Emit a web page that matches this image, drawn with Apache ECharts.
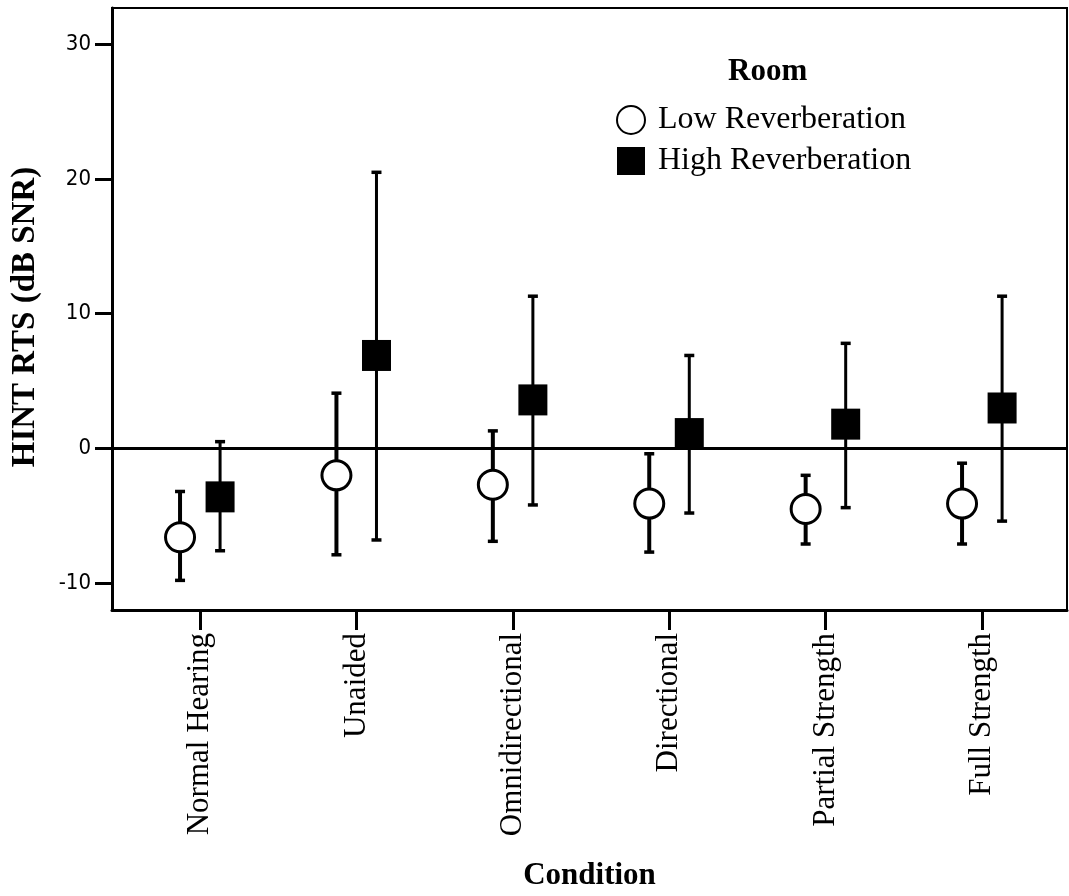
<!DOCTYPE html>
<html>
<head>
<meta charset="utf-8">
<script src="https://cdn.jsdelivr.net/npm/echarts@6/dist/echarts.min.js"></script>
<style>
  html, body { margin: 0; padding: 0; background: #fff; }
  #chart { width: 1069px; height: 896px; }
</style>
</head>
<body>
<div id="chart"></div>
<script>
var conditions = ['Normal Hearing', 'Unaided', 'Omnidirectional', 'Directional', 'Partial Strength', 'Full Strength'];
var lowMean = [-6.6, -2.0, -2.7, -4.1, -4.5, -4.1];
var lowUpper = [-3.2, 4.1, 1.3, -0.4, -2.0, -1.1];
var lowLower = [-9.8, -7.9, -6.9, -7.7, -7.1, -7.1];
var highMean = [-3.6, 6.9, 3.6, 1.1, 1.8, 3.0];
var highUpper = [0.5, 20.5, 11.3, 6.9, 7.8, 11.3];
var highLower = [-7.6, -6.8, -4.2, -4.8, -4.4, -5.4];
var yTicks = [-10, 0, 10, 20, 30];

var serif = '"Liberation Serif", "DejaVu Serif", serif';
var offset = 0.128; // side-by-side dodge of the two rooms

function points(means, dx) {
  var out = [];
  for (var i = 0; i < means.length; i++) out.push([i + dx, means[i]]);
  return out;
}
function bars(upper, lower, dx) {
  var out = [];
  for (var i = 0; i < upper.length; i++) out.push([i + dx, upper[i], lower[i]]);
  return out;
}
function errorBar(width) {
  return function (params, api) {
    var top = api.coord([api.value(0), api.value(1)]);
    var bot = api.coord([api.value(0), api.value(2)]);
    var cap = 5;
    var capStyle = { stroke: '#000', lineWidth: 3.5 };
    return {
      type: 'group',
      children: [
        { type: 'line', shape: { x1: top[0], y1: top[1], x2: bot[0], y2: bot[1] }, style: { stroke: '#000', lineWidth: width } },
        { type: 'line', shape: { x1: top[0] - cap, y1: top[1], x2: top[0] + cap, y2: top[1] }, style: capStyle },
        { type: 'line', shape: { x1: bot[0] - cap, y1: bot[1], x2: bot[0] + cap, y2: bot[1] }, style: capStyle }
      ]
    };
  };
}

var myChart = echarts.init(document.getElementById('chart'));
var option = {
  animation: false,
  title: {
    text: 'Room',
    left: 728,
    top: 56,
    padding: 0,
    textStyle: { fontFamily: serif, fontWeight: 'bold', fontSize: 31, color: '#000' }
  },
  legend: {
    orient: 'vertical',
    left: 616,
    top: 104,
    padding: 0,
    itemWidth: 28,
    itemHeight: 28,
    itemGap: 9,
    data: [
      { name: 'Low Reverberation', icon: 'circle' },
      { name: 'High Reverberation', icon: 'rect' }
    ],
    textStyle: { fontFamily: serif, fontSize: 32, color: '#000', padding: [0, 0, 0, 8] }
  },
  grid: {
    left: 112,
    top: 8,
    right: 2,
    bottom: 283,
    show: true,
    borderColor: '#000',
    borderWidth: 2
  },
  xAxis: {
    type: 'value',
    min: -0.563,
    max: 5.543,
    name: 'Condition',
    nameLocation: 'middle',
    nameGap: 250,
    nameTextStyle: { fontFamily: serif, fontWeight: 'bold', fontSize: 31, color: '#000' },
    axisLine: { show: true, onZero: false, lineStyle: { color: '#000', width: 3 } },
    splitLine: { show: false },
    axisTick: {
      show: true,
      customValues: [0, 1, 2, 3, 4, 5],
      length: 20,
      lineStyle: { color: '#000', width: 3 }
    },
    axisLabel: {
      customValues: [0, 1, 2, 3, 4, 5],
      rotate: 90,
      margin: 23,
      fontFamily: serif,
      fontSize: 31,
      color: '#000',
      formatter: function (v) { return conditions[Math.round(v)]; }
    }
  },
  yAxis: {
    type: 'value',
    min: -12,
    max: 32.7,
    name: 'HINT RTS (dB SNR)',
    nameLocation: 'middle',
    nameGap: 70,
    nameTextStyle: { fontFamily: serif, fontWeight: 'bold', fontSize: 33, color: '#000', padding: [0, 0, 0, -16] },
    axisLine: { show: true, onZero: false, lineStyle: { color: '#000', width: 3 } },
    splitLine: { show: false },
    axisTick: {
      show: true,
      customValues: yTicks,
      length: 17,
      lineStyle: { color: '#000', width: 3 }
    },
    axisLabel: {
      customValues: yTicks,
      margin: 21,
      fontFamily: '"Liberation Sans Narrow", "DejaVu Sans Condensed", "Liberation Sans", sans-serif',
      fontSize: 22,
      color: '#000'
    }
  },
  series: [
    {
      type: 'custom',
      name: 'lowErr',
      renderItem: errorBar(4),
      data: bars(lowUpper, lowLower, -offset),
      z: 2,
      markLine: {
        silent: true,
        symbol: 'none',
        label: { show: false },
        lineStyle: { color: '#000', width: 3, type: 'solid' },
        data: [{ yAxis: 0 }]
      }
    },
    {
      type: 'custom',
      name: 'highErr',
      renderItem: errorBar(3),
      data: bars(highUpper, highLower, offset),
      z: 2
    },
    {
      type: 'scatter',
      name: 'Low Reverberation',
      symbol: 'circle',
      symbolSize: 29,
      itemStyle: { color: '#fff', borderColor: '#000', borderWidth: 3, opacity: 1 },
      data: points(lowMean, -offset),
      z: 5
    },
    {
      type: 'scatter',
      name: 'High Reverberation',
      symbol: 'rect',
      symbolSize: [29, 31],
      itemStyle: { color: '#000', opacity: 1 },
      data: points(highMean, offset),
      z: 5
    }
  ]
};
myChart.setOption(option);
</script>
</body>
</html>
